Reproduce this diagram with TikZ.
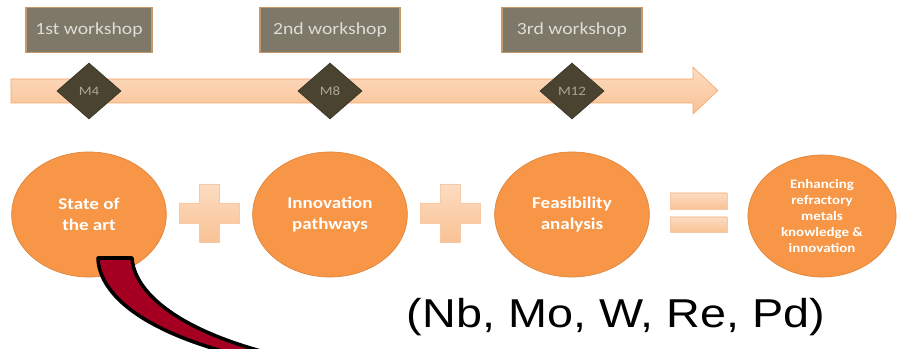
\documentclass[tikz,border=0pt]{standalone}
\usepackage{fontspec}
\setmainfont{Carlito}
\newfontfamily\arialfont{Liberation Sans}
\usetikzlibrary{positioning,shapes.geometric}
\definecolor{wsGray}{HTML}{7D7868}
\definecolor{wsEdge}{HTML}{C8976A}
\definecolor{wsText}{HTML}{DEDDD6}
\definecolor{msDark}{HTML}{4A4330}
\definecolor{msEdge}{HTML}{3A3528}
\definecolor{msText}{HTML}{ABA699}
\definecolor{tlTop}{HTML}{FDDCC2}
\definecolor{tlBot}{HTML}{F9C294}
\definecolor{tlEdge}{HTML}{F0A76A}
\definecolor{ballOrange}{HTML}{F79646}
\definecolor{ballEdge}{HTML}{E0853A}
\definecolor{tailRed}{HTML}{A50021}
\tikzset{
  stretched/.style={xscale=1.16},
  wsbox/.style={stretched, draw=wsEdge, line width=1.5pt, fill=wsGray,
                text=wsText, minimum width=3.62cm, minimum height=1.35cm,
                font=\fontsize{14.5}{17}\selectfont},
  msdiamond/.style={stretched, diamond, draw=msEdge, line width=0.6pt,
                    fill=msDark, text=msText, inner sep=0pt,
                    minimum width=1.66cm, minimum height=1.68cm,
                    font=\fontsize{11}{13}\selectfont},
  ball/.style={stretched, ellipse, draw=ballEdge, line width=0.6pt,
               fill=ballOrange, text=white, inner sep=0pt, align=center,
               minimum width=4.0cm, minimum height=3.75cm,
               font=\bfseries\fontsize{14}{17.5}\selectfont},
  opshape/.style={top color=tlTop, bottom color=tlBot, draw=tlEdge!60,
                  line width=0.5pt},
  tailarrow/.style={fill=tailRed, draw=black, line width=3pt,
                    line join=round},
}
\begin{document}
\begin{tikzpicture}[x=0.03cm, y=-0.03cm]
\def\xA{89}     % first column
\def\xB{330}    % second column
\def\xC{572}    % third column
\def\xD{822}    % result column
\def\yWs{30}    % workshop row
\def\yTl{91}    % timeline row
\def\yBall{214.5} % ellipse row
\useasboundingbox (0,0) rectangle (897,349);

%% Timeline
\draw[opshape, draw=tlEdge] (11,79) -- (693,79) -- (693,67) -- (718,90.5)
  -- (693,114) -- (693,103) -- (11,103) -- cycle;

%% Milestones
\node[msdiamond] (m4) at (\xA,\yTl) {M4};
\node[msdiamond] (m8) at (\xB,\yTl) {M8};
\node[msdiamond] (m12) at (\xC,\yTl) {M12};

%% Workshops
\node[wsbox, minimum width=3.26cm] (ws1) at (\xA,\yWs) {1st workshop};
\node[wsbox] (ws2) at (\xB,\yWs) {2nd workshop};
\node[wsbox] (ws3) at (\xC,\yWs) {3rd workshop};

%% Stages
\node[ball] (sota) at (\xA,\yBall) {State of\\the art};
\node[ball] (innov) at (\xB,\yBall) {Innovation\\pathways};
\node[ball] (feas) at (\xC,\yBall) {Feasibility\\analysis};
\node[ball, minimum width=3.83cm, minimum height=3.66cm,
      font=\bfseries\fontsize{11}{13.6}\selectfont] (goal) at (\xD,216)
  {Enhancing\\refractory\\metals\\knowledge \&\\innovation};

%% Plus and equals signs
\foreach \xp in {209,450} {
  \begin{scope}[shift={(\xp,213)}]
    \draw[opshape] (-10,-29) -- (10,-29) -- (10,-10) -- (30,-10) -- (30,10)
      -- (10,10) -- (10,29) -- (-10,29) -- (-10,10) -- (-30,10) -- (-30,-10)
      -- (-10,-10) -- cycle;
  \end{scope}
}
\draw[opshape] (670,193) rectangle (727,209);
\draw[opshape] (670,217) rectangle (727,232);

%% Red tail
\begin{scope}
  \clip (0,0) rectangle (897,349);
  \draw[tailarrow] (98,258) -- (132,258) .. controls (134,290) and (173,328)
    .. (268,353) -- (233,354) .. controls (134,328) and (99,290) .. (98,258)
    -- cycle;
\end{scope}

\node[stretched, anchor=base, font=\arialfont\fontsize{34.4}{40}\selectfont]
  (metals) at (616,328) {(Nb, Mo, W, Re, Pd)};
\end{tikzpicture}
\end{document}
